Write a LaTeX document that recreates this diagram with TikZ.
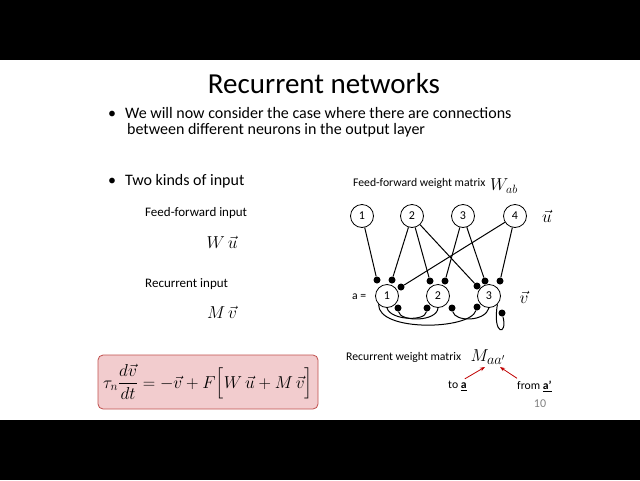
\documentclass[tikz,border=0pt]{standalone}
\usepackage{fontspec}
\setmainfont{Carlito}
\usepackage{amsmath}
\usetikzlibrary{arrows.meta}
\usetikzlibrary{positioning}
\definecolor{boxred}{RGB}{192,80,77}
\definecolor{boxpink}{RGB}{242,204,206}
\definecolor{arrred}{RGB}{192,0,0}
\tikzset{
  neuron/.style={circle,draw,line width=0.8pt,minimum size=23pt,inner sep=0pt,font=\fontsize{12}{12}\selectfont},
  syn/.style={circle,fill,inner sep=0pt,minimum size=7pt},
  wire/.style={line width=1pt},
  txt/.style={anchor=west,inner sep=0pt,font=\fontsize{16}{18}\selectfont},
  small/.style={anchor=west,inner sep=0pt,font=\fontsize{13}{15}\selectfont},
  tiny/.style={anchor=west,inner sep=0pt,font=\fontsize{11.7}{13}\selectfont},
}
\begin{document}
\begin{tikzpicture}[x=1pt,y=-1pt]
  \useasboundingbox (0,0) rectangle (640,480);
  %BARS
  \fill[black] (0,0) rectangle (640,60);
  \fill[black] (0,420) rectangle (640,480);
  %TITLE
  \node[font=\fontsize{29}{31}\selectfont] (title) at (324,84) {Recurrent networks};
  %BULLETS
  \node[txt] (b1) at (108,113) {•\hspace{9pt}We will now consider the case where there are connections};
  \node[txt] (b1b) at (127,130) {between different neurons in the output layer};
  \node[txt] (b2) at (108,181) {•\hspace{9pt}Two kinds of input};
  \node[small] (ff) at (145,213) {Feed-forward input};
  \node[font=\fontsize{18}{18}\selectfont] (Wu) at (222,242) {$W\,\vec{u}$};
  \node[small] (rec) at (145,284) {Recurrent input};
  \node[font=\fontsize{18}{18}\selectfont] (Mv) at (222,312) {$M\,\vec{v}$};
  %EQUATION
  \node[draw=boxred,fill=boxpink,rounded corners=5pt,line width=0.8pt,
        minimum width=220pt,minimum height=54pt,font=\fontsize{17}{17}\selectfont] (eq) at (208,382)
    {$\tau_n\dfrac{d\vec{v}}{dt}=-\vec{v}+F\Big[W\,\vec{u}+M\,\vec{v}\Big]$};
  %NETWORK LABELS
  \node[tiny] (fflab) at (353,183) {Feed-forward weight matrix};
  \node[font=\fontsize{17}{17}\selectfont] (W) at (504,186) {$W_{ab}$};
  \node[font=\fontsize{18}{18}\selectfont] (uvec) at (547,216) {$\vec{u}$};
  \node[font=\fontsize{18}{18}\selectfont] (vvec) at (524,297) {$\vec{v}$};
  \node[tiny] (alab) at (352,297) {a =};
  %INPUT NEURONS
  \foreach \x [count=\i] in {362,412,463,515}{
    \node[neuron] (u\i) at (\x,216) {\i};
  }
  %OUTPUT NEURONS
  \foreach \x [count=\i] in {387,438,489}{
    \node[neuron] (v\i) at (\x,296) {\i};
  }
  %SYNAPSES
  \node[syn] (s1) at (377,280) {};
  \node[syn] (s2) at (392,280) {};
  \node[syn] (s3) at (401,287) {};
  \node[syn] (s4) at (430,281) {};
  \node[syn] (s5) at (445,281) {};
  \node[syn] (s6) at (477,286) {};
  \node[syn] (s7) at (485,281) {};
  \node[syn] (s8) at (500,281) {};
  \node[syn] (r1) at (398,308) {};
  \node[syn] (r2) at (427,308) {};
  \node[syn] (r3) at (452,308) {};
  \node[syn] (r4) at (477,307) {};
  \node[syn] (r5) at (502,313) {};
  %FEED-FORWARD
  \draw[wire] (u1) -- (s1);
  \draw[wire] (u2) -- (s2);
  \draw[wire] (u2) -- (s4);
  \draw[wire] (u2) -- (s6);
  \draw[wire] (u3) -- (s5);
  \draw[wire] (u3) -- (s7);
  \draw[wire] (u4) -- (s3);
  \draw[wire] (u4) -- (s8);
  %RECURRENT
  \draw[wire] (v2.south) .. controls (437,322) and (400,322) .. (r1);
  \draw[wire] (v1.south) .. controls (390,320) and (425,322) .. (r2);
  \draw[wire] (v1.south west) .. controls (378,332) and (470,330) .. (r4);
  \draw[wire] (v3.south) .. controls (485,322) and (455,322) .. (r3);
  \draw[wire] (v3.south east) .. controls (492,336) and (508,336) .. (r5);
  %RECURRENT LABEL
  \node[tiny] (reclab) at (346,357) {Recurrent weight matrix};
  \node[font=\fontsize{19}{19}\selectfont] (M) at (488,357) {$M_{aa'}$};
  \node[tiny] (to) at (448,386) {to \underline{\textbf{a}}};
  \node[tiny] (from) at (517,386) {from \underline{\textbf{a’}}};
  \draw[-{Stealth[length=5pt]},arrred,line width=0.8pt] (to.north east) ++(-2,-2) -- (485,367);
  \draw[-{Stealth[length=5pt]},arrred,line width=0.8pt] (from.north west) ++(0,-2) -- (500,367);
  \node[font=\fontsize{12}{12}\selectfont,text=gray] (pg) at (540,404) {10};
\end{tikzpicture}
\end{document}
